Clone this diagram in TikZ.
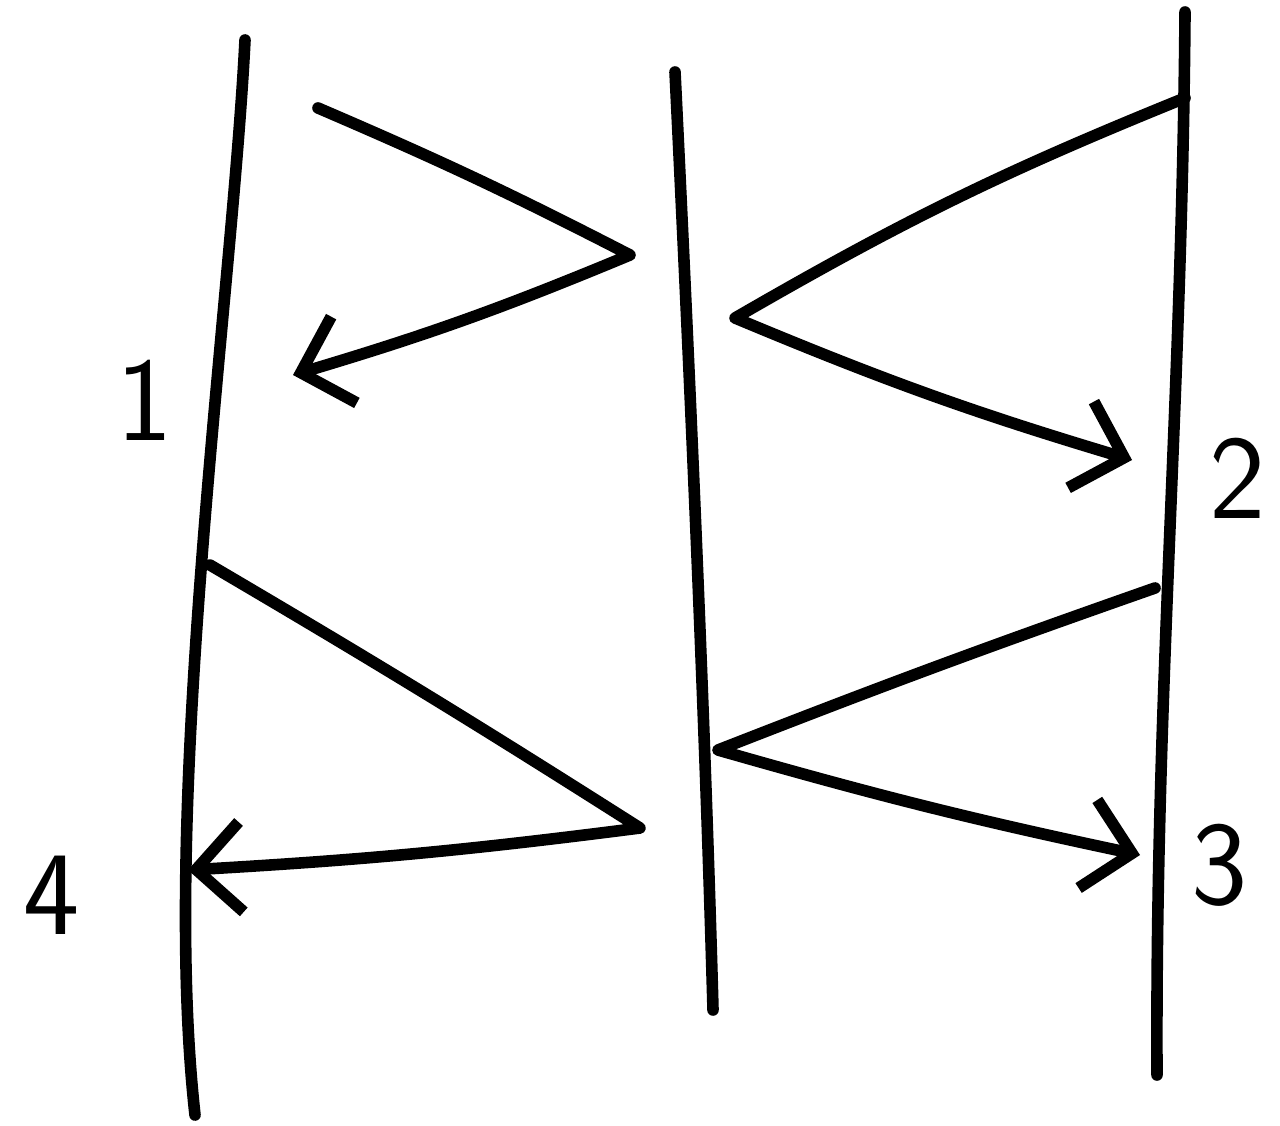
\documentclass[tikz,border=0pt]{standalone}
\usepackage{tikz}
\usetikzlibrary{arrows.meta}

\begin{document}
\begin{tikzpicture}[
        x=0.01cm, y=-0.01cm,
        stroke/.style={line width=3.3pt, line cap=round, line join=round},
        msg/.style={stroke, -{Straight Barb[length=4.5mm, width=9mm, line width=3.3pt]}},
        num/.style={font=\sffamily\fontsize{34}{40}\selectfont}
    ]

    \useasboundingbox (0,0) rectangle (1280,1125);

    % Ends of the three lifelines
    \coordinate (l0) at (245,40);   \coordinate (l1) at (195,1115);
    \coordinate (c0) at (675,72);   \coordinate (c1) at (713,1010);
    \coordinate (r0) at (1185,12);  \coordinate (r1) at (1157,1075);

    % Draw the lifelines
    \draw[stroke] (l0) .. controls (232,300) and (160,800) .. (l1);
    \draw[stroke] (c0) .. controls (690,380) and (705,720) .. (c1);
    \draw[stroke] (r0) .. controls (1182,400) and (1155,700) .. (r1);

    % Start, turning and end points of the messages
    \coordinate (a0) at (318,108);  \coordinate (a1) at (630,255);  \coordinate (a2) at (293,375);
    \coordinate (b0) at (1185,98);  \coordinate (b1) at (735,318);  \coordinate (b2) at (1132,460);
    \coordinate (d0) at (210,565);  \coordinate (d1) at (640,828);  \coordinate (d2) at (188,870);
    \coordinate (e0) at (1155,588); \coordinate (e1) at (718,750);  \coordinate (e2) at (1140,855);

    % Draw the messages
    \draw[msg] (a0) to[bend left=2] (a1) to[bend left=3] (a2);
    \draw[msg] (b0) to[bend right=4] (b1) to[bend right=3] (b2);
    \draw[msg] (d0) to[bend left=1] (d1) to[bend left=2] (d2);
    \draw[msg] (e0) to[bend right=1] (e1) to[bend right=2] (e2);

    % Numbers beside the lifelines
    \node[num] (n1) at (145,400) {1};
    \node[num] (n2) at (1238,478) {2};
    \node[num] (n3) at (1220,865) {3};
    \node[num] (n4) at (52,895) {4};

\end{tikzpicture}
\end{document}
